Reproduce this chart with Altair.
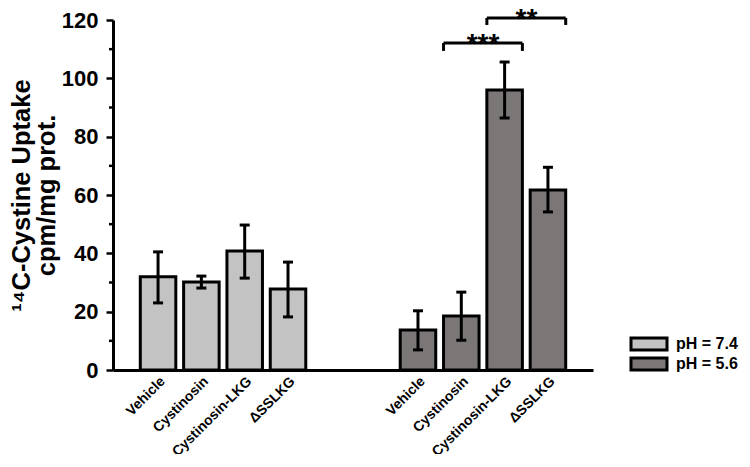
import altair as alt
import pandas as pd

# ---- data ----
slots = ["L1", "L2", "L3", "L4", "G1", "G2", "D1", "D2", "D3", "D4"]
slot_labels = ["Vehicle", "Cystinosin", "Cystinosin-LKG", "ΔSSLKG", "", "",
               "Vehicle", "Cystinosin", "Cystinosin-LKG", "ΔSSLKG"]

light_slots = ["L1", "L2", "L3", "L4"]
light_mean = [32.0, 30.2, 40.8, 27.8]
light_low = [23.0, 28.1, 31.5, 18.2]
light_high = [40.5, 32.2, 49.7, 37.0]

dark_slots = ["D1", "D2", "D3", "D4"]
dark_mean = [13.7, 18.5, 96.0, 61.7]
dark_low = [6.9, 10.2, 86.4, 54.2]
dark_high = [20.3, 26.7, 105.6, 69.5]

series_names = ["pH = 7.4", "pH = 5.6"]
series_colors = ["#c3c3c3", "#7b7777"]

bracket_start = ["D2", "D3"]
bracket_end = ["D3", "D4"]
bracket_top = [112.1, 120.7]
bracket_low = [109.4, 118.3]
bracket_text = ["***", "**"]

y_ticks = [0, 20, 40, 60, 80, 100, 120]
y_minor = [10, 30, 50, 70, 90, 110]

# ---- tables ----
bars = pd.DataFrame({
    "slot": light_slots + dark_slots,
    "value": light_mean + dark_mean,
    "lo": light_low + dark_low,
    "hi": light_high + dark_high,
    "ph": [series_names[0]] * 4 + [series_names[1]] * 4,
})
brackets = pd.DataFrame({
    "start": bracket_start, "end": bracket_end,
    "top": bracket_top, "low": bracket_low, "text": bracket_text,
})
minor = pd.DataFrame({"v": y_minor})

label_map = "{" + ",".join(f'"{s}":"{l}"' for s, l in zip(slots, slot_labels)) + "}"

FONT = "Liberation Sans"

xscale = alt.Scale(domain=slots, paddingInner=0.18, paddingOuter=0.63)
yscale = alt.Scale(domain=[0, 120], nice=False)

x_axis = alt.Axis(
    title=None, ticks=False, labelAngle=-45, labelAlign="right", labelBaseline="top",
    labelExpr=f"{label_map}[datum.value]", labelFontSize=14, labelPadding=4,
    domainWidth=3, domainColor="black", labelColor="black",
)
y_axis = alt.Axis(
    title=["¹⁴C-Cystine Uptake", "cpm/mg prot."], values=y_ticks, grid=False,
    tickSize=7, tickWidth=2.5, tickColor="black", labelFontSize=22, labelPadding=8,
    domainWidth=3, domainColor="black", labelColor="black",
    titleFontSize=25.5, titleLineHeight=25, titlePadding=2, titleColor="black",
)

base = alt.Chart(bars)

bar_layer = base.mark_bar(stroke="black", strokeWidth=3).encode(
    x=alt.X("slot:N", scale=xscale, axis=x_axis, sort=slots),
    y=alt.Y("value:Q", scale=yscale, axis=y_axis),
    color=alt.Color("ph:N", scale=alt.Scale(domain=series_names, range=series_colors),
                    legend=alt.Legend(
                        title=None, orient="none", legendX=528, legendY=316,
                        symbolType="M-3,-1H3V1H-3Z", symbolSize=144,
                        symbolStrokeColor="black", symbolStrokeWidth=3,
                        labelFontSize=16, labelColor="black", labelOffset=19,
                        rowPadding=-10, symbolOpacity=1,
                    )),
)

err_rule = base.mark_rule(color="black", strokeWidth=3).encode(
    x=alt.X("slot:N", scale=xscale, sort=slots),
    y="lo:Q", y2="hi:Q",
)
cap_lo = base.mark_tick(color="black", size=10, thickness=3, opacity=1).encode(
    x=alt.X("slot:N", scale=xscale, sort=slots), y="lo:Q",
)
cap_hi = base.mark_tick(color="black", size=10, thickness=3, opacity=1).encode(
    x=alt.X("slot:N", scale=xscale, sort=slots), y="hi:Q",
)

minor_ticks = alt.Chart(minor).mark_rule(color="black", strokeWidth=2.5).encode(
    x=alt.value(-4), x2=alt.value(0), y=alt.Y("v:Q", scale=yscale),
)

bbase = alt.Chart(brackets)
br_h = bbase.mark_rule(color="black", strokeWidth=3, clip=False).encode(
    x=alt.X("start:N", scale=xscale, bandPosition=0),
    x2=alt.X2("end:N", bandPosition=1),
    y=alt.Y("top:Q", scale=yscale),
)
br_l = bbase.mark_rule(color="black", strokeWidth=3, clip=False).encode(
    x=alt.X("start:N", scale=xscale, bandPosition=0),
    y=alt.Y("top:Q", scale=yscale), y2="low:Q",
)
br_r = bbase.mark_rule(color="black", strokeWidth=3, clip=False).encode(
    x=alt.X("end:N", scale=xscale, bandPosition=1),
    y=alt.Y("top:Q", scale=yscale), y2="low:Q",
)
br_t = bbase.mark_text(fontSize=28, fontWeight="bold", font=FONT, color="black",
                       baseline="alphabetic", dx=4, dy=10).encode(
    x=alt.X("start:N", scale=xscale, bandPosition=1),
    y=alt.Y("top:Q", scale=yscale),
    text="text:N",
)

chart = alt.layer(
    bar_layer, err_rule, cap_lo, cap_hi, minor_ticks, br_h, br_l, br_r, br_t
).properties(
    width=480, height=350,
    autosize=alt.AutoSizeParams(type="none"),
    padding={"left": 105, "top": 12, "right": 149, "bottom": 84},
    background="white",
).configure_view(stroke=None).configure_axis(
    labelFont=FONT, titleFont=FONT, labelFontWeight="bold", titleFontWeight="bold",
).configure_legend(
    labelFont=FONT, labelFontWeight="bold",
)

chart.save("out.html", embed_options={"renderer": "svg", "actions": False})
